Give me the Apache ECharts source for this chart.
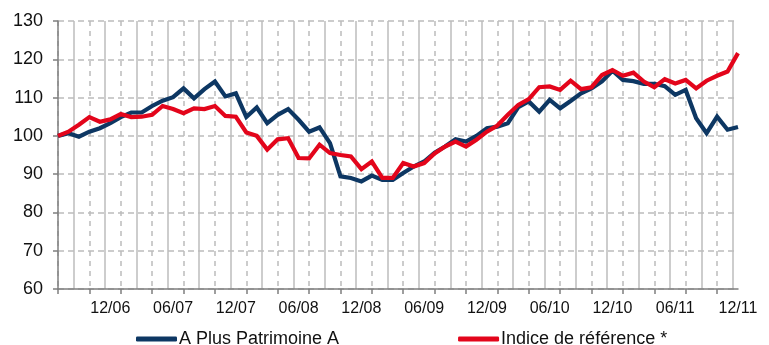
<!DOCTYPE html>
<html>
<head>
<meta charset="utf-8">
<script src="https://cdn.jsdelivr.net/npm/echarts@6/dist/echarts.min.js"></script>
<style>
  html, body { margin: 0; padding: 0; background: #ffffff; }
  #chart { width: 769px; height: 345px; }
</style>
</head>
<body>
<div id="chart"></div>
<script>
// Monthly closes, July 2006 to December 2011, rebased to 100
const startYear = 2006;
const startMonth = 7;
const monthCount = 66;

const fundName = 'A Plus Patrimoine A';
const fundValues = [
  100.0, 100.7, 99.8, 101.1, 102.0, 103.3, 104.9, 106.1, 106.1, 107.8,
  109.2, 110.1, 112.4, 109.8, 112.2, 114.2, 110.3, 111.1, 104.9, 107.4,
  103.3, 105.5, 107.0, 104.2, 101.1, 102.2, 98.1, 89.4, 89.0, 88.1,
  89.6, 88.5, 88.5, 90.3, 92.0, 93.3, 95.6, 97.2, 99.1, 98.5,
  100.0, 102.0, 102.4, 103.3, 107.5, 109.0, 106.3, 109.4, 107.2, 109.1,
  111.1, 112.4, 114.2, 117.0, 114.6, 114.3, 113.6, 113.6, 113.0, 110.7,
  112.0, 104.6, 100.7, 105.0, 101.6, 102.3
];

const benchName = 'Indice de référence *';
const benchValues = [
  100.0, 101.1, 102.9, 104.9, 103.7, 104.3, 105.7, 104.9, 105.0, 105.5,
  107.8, 107.0, 105.9, 107.2, 107.0, 107.8, 105.2, 105.0, 100.9, 100.0,
  96.4, 99.1, 99.4, 94.2, 94.1, 97.7, 95.5, 95.0, 94.6, 91.3,
  93.3, 89.0, 89.0, 92.9, 92.0, 92.9, 95.4, 97.2, 98.5, 97.2,
  99.0, 101.1, 102.7, 105.5, 108.1, 109.6, 112.7, 112.9, 112.0, 114.4,
  112.2, 112.7, 115.9, 117.2, 115.7, 116.5, 114.2, 112.7, 114.8, 113.7,
  114.6, 112.4, 114.4, 115.7, 116.8, 121.6
];

// Month labels "MM/YY"
const months = [];
for (let i = 0; i < monthCount; i++) {
  const m = (startMonth - 1 + i) % 12 + 1;
  const y = startYear + Math.floor((startMonth - 1 + i) / 12);
  months.push(String(m).padStart(2, '0') + '/' + String(y % 100).padStart(2, '0'));
}

// Half-month steps used for the solid vertical rules between quarter ticks
const halfSteps = [];
for (let i = 0; i <= (monthCount - 1) * 2; i++) halfSteps.push(String(i));

const yMin = 60, yMax = 130, yStep = 10;

const navy = '#0d3763';
const red = '#e3051b';
const axisGrey = '#7f7f7f';
const ruleGrey = '#bcbcbc';
const font = 'Liberation Sans, Arial, sans-serif';

const chart = echarts.init(document.getElementById('chart'), null, { renderer: 'canvas' });

chart.setOption({
  animation: false,
  backgroundColor: '#ffffff',
  grid: { left: 58, right: 31, top: 21, bottom: 56, containLabel: false },
  legend: {
    left: 131,
    top: 325,
    itemGap: 119,
    itemWidth: 41,
    itemHeight: 5,
    icon: 'roundRect',
    textStyle: { fontFamily: font, fontSize: 18, color: '#111111', padding: [0, 0, 0, -3] },
    data: [fundName, benchName]
  },
  xAxis: [
    {
      type: 'category',
      data: months,
      boundaryGap: false,
      position: 'bottom',
      axisLine: { lineStyle: { color: axisGrey, width: 1.5 } },
      axisTick: {
        show: true,
        inside: false,
        length: 5,
        interval: (i) => i % 3 === 0,
        lineStyle: { color: axisGrey, width: 1.5 }
      },
      axisLabel: {
        interval: (i) => i % 6 === 5,
        margin: 12,
        fontFamily: font,
        fontSize: 16,
        color: '#111111'
      },
      splitLine: {
        show: true,
        interval: (i) => i % 3 === 0,
        lineStyle: { color: ruleGrey, width: 1.5, type: [5, 5] }
      }
    },
    {
      type: 'category',
      data: halfSteps,
      boundaryGap: false,
      position: 'bottom',
      axisLine: { show: false },
      axisTick: { show: false },
      axisLabel: { show: false },
      splitLine: {
        show: true,
        interval: (i) => i % 6 === 3,
        lineStyle: { color: ruleGrey, width: 1.5, type: 'solid' }
      }
    }
  ],
  yAxis: {
    type: 'value',
    min: yMin,
    max: yMax,
    interval: yStep,
    axisLine: { show: true, lineStyle: { color: axisGrey, width: 1.5 } },
    axisTick: { show: true, inside: false, length: 5, lineStyle: { color: axisGrey, width: 1.5 } },
    axisLabel: { margin: 15, fontFamily: font, fontSize: 18, color: '#111111' },
    splitLine: { show: true, lineStyle: { color: ruleGrey, width: 1.5, type: [6, 4] } }
  },
  series: [
    {
      name: fundName,
      type: 'line',
      xAxisIndex: 0,
      data: fundValues,
      symbol: 'none',
      showSymbol: false,
      lineStyle: { color: navy, width: 4.2, join: 'miter' },
      itemStyle: { color: navy },
      z: 3
    },
    {
      name: benchName,
      type: 'line',
      xAxisIndex: 0,
      data: benchValues,
      symbol: 'none',
      showSymbol: false,
      lineStyle: { color: red, width: 4.2, join: 'miter' },
      itemStyle: { color: red },
      z: 4
    }
  ]
});
</script>
</body>
</html>
